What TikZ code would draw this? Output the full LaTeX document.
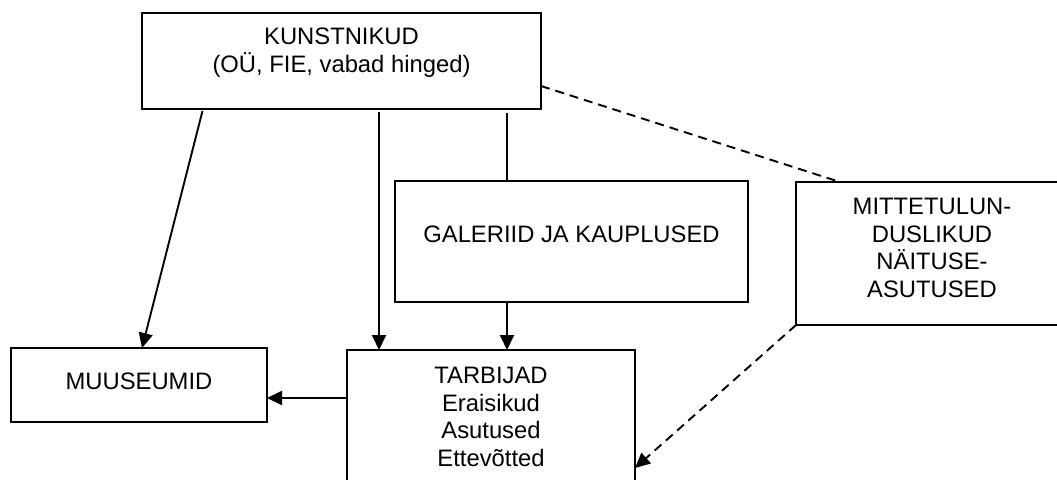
\documentclass[tikz,border=0pt]{standalone}
\usepackage{fontspec}
\setmainfont{Liberation Sans}
\usetikzlibrary{arrows.meta}
\begin{document}
\begin{tikzpicture}[x=1pt,y=-1pt,
  box/.style={draw, line width=2pt, inner sep=0pt, outer sep=0pt},
  lbl/.style={align=center, inner sep=0pt, font=\fontsize{23.8}{27.8}\selectfont},
  conn/.style={line width=1.9pt},
  arr/.style={line width=1.9pt, -{Triangle[length=15pt,width=14pt]}},
  dsh/.style={line width=1.9pt, dash pattern=on 9pt off 6pt}
]
\useasboundingbox (0,0) rectangle (1057,479);
\clip (0,0) rectangle (1057,479);
\fill[white] (0,0) rectangle (1057,479);
% boxes
\node[box, minimum width=399pt, minimum height=96pt] (kun) at (341.5,61) {};
\node[box, minimum width=353pt, minimum height=121pt] (gal) at (571.5,241.5) {};
\node[box, minimum width=272pt, minimum height=143pt] (mit) at (932,253.5) {};
\node[box, minimum width=256pt, minimum height=74pt] (mus) at (139,385) {};
\node[box, minimum width=288pt, minimum height=133pt] (tar) at (491,416.5) {};
% labels
\node[lbl] (kunT) at (341.5,53) {KUNSTNIKUD\\(OÜ, FIE, vabad hinged)};
\node[lbl] (galT) at (571.5,234) {GALERIID JA KAUPLUSED};
\node[lbl] (mitT) at (932,248) {MITTETULUN-\\DUSLIKUD\\NÄITUSE-\\ASUTUSED};
\node[lbl] (musT) at (139,381) {MUUSEUMID};
\node[lbl] (tarT) at (491,417) {TARBIJAD\\Eraisikud\\Asutused\\Ettevõtted};
% coordinates
\coordinate (xmid) at (379,0);
\coordinate (xgal) at (507,0);
\coordinate (ymus) at (0,398);
% connectors
\draw[arr, shorten <=2pt] ([xshift=61pt]kun.south west) -- ([xshift=131pt]mus.north west);
\draw[arr, shorten <=3pt] (kun.south -| xmid) -- (tar.north -| xmid);
\draw[conn, shorten <=4pt] (kun.south -| xgal) -- (gal.north -| xgal);
\draw[arr] (gal.south -| xgal) -- (tar.north -| xgal);
\draw[arr] (tar.west |- ymus) -- (mus.east |- ymus);
\draw[dsh] ([yshift=23pt]kun.south east) -- ([xshift=44pt]mit.north west);
\draw[dsh, -{Triangle[length=15pt,width=14pt]}] (mit.south west) -- ([yshift=-118pt]tar.north east);
\end{tikzpicture}
\end{document}
